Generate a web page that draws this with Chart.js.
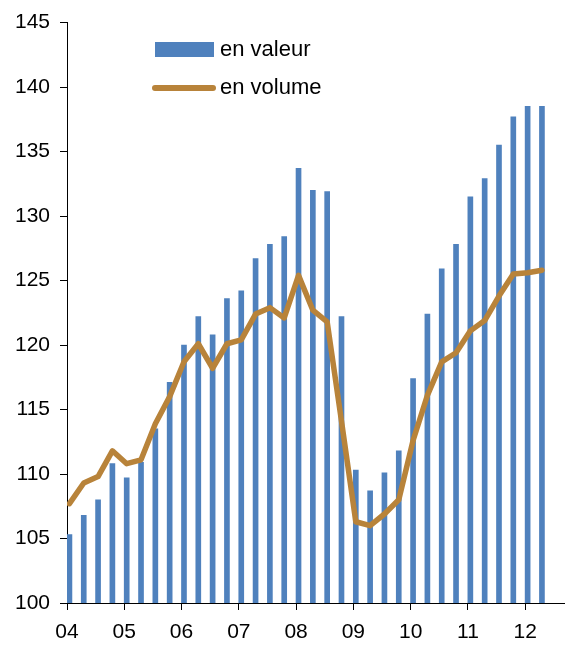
<!DOCTYPE html>
<html>
<head>
<meta charset="utf-8">
<script src="https://cdn.jsdelivr.net/npm/chart.js@4/dist/chart.umd.min.js"></script>
<style>
html,body{margin:0;padding:0;background:#fff;}
#wrap{width:565px;height:645px;position:relative;}
</style>
</head>
<body>
<div id="wrap"><canvas id="c" width="565" height="645"></canvas></div>
<script>
// Year tick labels (one every 4 quarters, starting 2004 Q1)
const yearLabels = ['04','05','06','07','08','09','10','11','12'];
// Quarterly series, 2004 Q1 .. 2012 Q2
const enValeur = [105.3,106.8,108.0,110.8,109.7,110.9,113.5,117.1,120.0,122.2,120.8,123.6,124.2,126.7,127.8,128.4,133.7,132.0,131.9,122.2,110.3,108.7,110.1,111.8,117.4,122.4,125.9,127.8,131.5,132.9,135.5,137.7,138.5,138.5];
const enVolume = [107.7,109.3,109.8,111.8,110.8,111.1,113.9,116.0,118.7,120.1,118.2,120.1,120.4,122.4,122.9,122.1,125.4,122.7,121.8,114.1,106.3,106.0,106.9,108.0,112.6,116.1,118.7,119.4,121.1,121.9,123.8,125.5,125.6,125.8];
const seriesNames = ['en valeur','en volume'];

const QOFF = 0.17; // marks sit slightly right of each quarter's start
const FONT = 'Liberation Sans, Arial, sans-serif';

const legendPlugin = {
  id: 'customLegend',
  afterDraw(chart) {
    const ctx = chart.ctx;
    const ds = chart.data.datasets;
    ctx.save();
    // bar entry
    ctx.fillStyle = ds[0].backgroundColor;
    ctx.fillRect(155, 42, 59, 15);
    // line entry
    ctx.strokeStyle = ds[1].borderColor;
    ctx.lineWidth = 6;
    ctx.lineCap = 'round';
    ctx.beginPath();
    ctx.moveTo(155, 88);
    ctx.lineTo(213, 88);
    ctx.stroke();
    ctx.fillStyle = '#000';
    ctx.font = '22px ' + FONT;
    ctx.textBaseline = 'middle';
    ctx.textAlign = 'left';
    ctx.fillText(ds[0].label, 220, 50);
    ctx.fillText(ds[1].label, 220, 88);
    ctx.restore();
  }
};

new Chart(document.getElementById('c'), {
  data: {
    datasets: [
      {
        type: 'bar',
        label: seriesNames[0],
        data: enValeur.map((v, i) => ({x: i + QOFF, y: v})),
        backgroundColor: '#4F81BD',
        borderWidth: 0,
        barThickness: 5,
        order: 2
      },
      {
        type: 'line',
        label: seriesNames[1],
        data: enVolume.map((v, i) => ({x: i + QOFF, y: v})),
        borderColor: '#B8833A',
        borderWidth: 5.5,
        pointRadius: 0,
        tension: 0,
        borderJoinStyle: 'round',
        borderCapStyle: 'round',
        fill: false,
        order: 1
      }
    ]
  },
  options: {
    responsive: false,
    animation: false,
    devicePixelRatio: 1,
    layout: {padding: {top: 21, right: 0, left: 0, bottom: 0}},
    plugins: {legend: {display: false}, tooltip: {enabled: false}},
    scales: {
      x: {
        type: 'linear',
        min: 0,
        max: 34.78,
        offset: false,
        grid: {display: true, offset: false, drawOnChartArea: false, drawTicks: true, tickLength: 7, color: '#000'},
        border: {display: true, color: '#000', width: 1},
        afterBuildTicks(scale) {
          scale.ticks = yearLabels.map((_, k) => ({value: k * 4}));
        },
        afterFit(scale) { scale.height = 42; },
        ticks: {
          autoSkip: false,
          maxRotation: 0,
          padding: 10,
          color: '#000',
          font: {family: FONT, size: 21},
          callback: (v) => yearLabels[Math.round(v / 4)]
        }
      },
      y: {
        type: 'linear',
        min: 100,
        max: 145,
        grid: {display: true, drawOnChartArea: false, drawTicks: true, tickLength: 7, color: '#000'},
        border: {display: true, color: '#000', width: 1},
        afterFit(scale) { scale.width = 67; },
        ticks: {
          stepSize: 5,
          padding: 10,
          color: '#000',
          font: {family: FONT, size: 21}
        }
      }
    }
  },
  plugins: [legendPlugin]
});
</script>
</body>
</html>
